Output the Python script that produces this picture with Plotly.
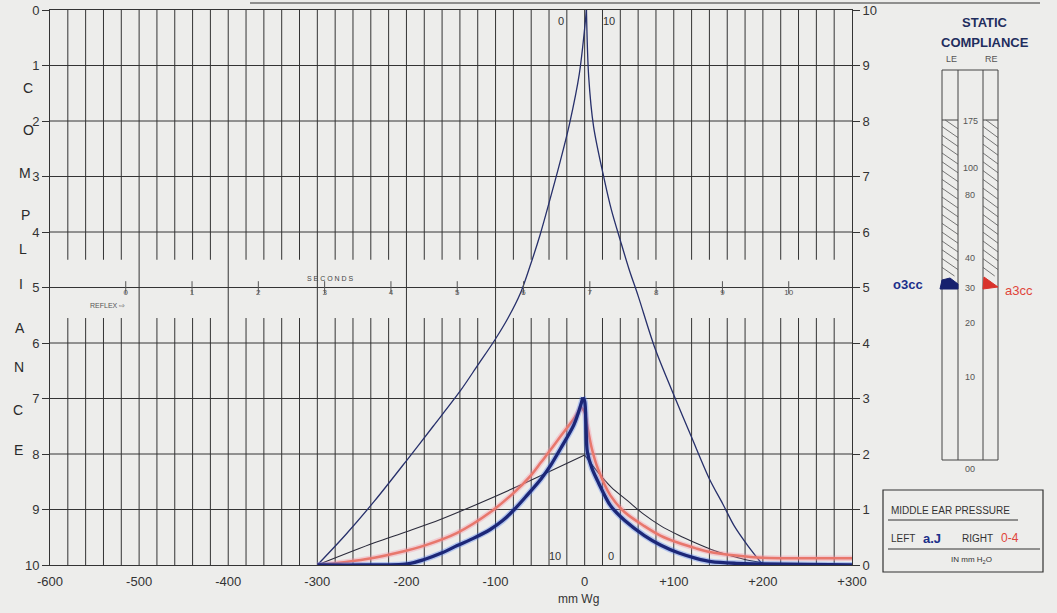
import plotly.graph_objects as go

# ---------------- data ----------------
PRESSURE_TICKS = [-600, -500, -400, -300, -200, -100, 0, 100, 200, 300]
PRESSURE_TICK_TEXT = ["-600", "-500", "-400", "-300", "-200", "-100", "0", "+100", "+200", "+300"]
RIGHT_SCALE = list(range(0, 11))
LEFT_SCALE = list(range(0, 11))
SECONDS = list(range(0, 11))

TALL_X = [-300, -268, -236, -199, -170, -139, -120, -101, -86, -72, -61, -50, -37, -27, -17, -6, 2,
          4.5, 10, 22, 30, 40, 50, 60, 79, 103, 120, 140, 155, 168, 183, 200]
TALL_Y = [0, 0.55, 1.15, 1.9, 2.5, 3.15, 3.6, 4.05, 4.45, 4.9, 5.4, 5.95, 6.7, 7.3, 7.95, 8.85, 10,
          8.8, 7.9, 6.95, 6.4, 5.85, 5.32, 4.85, 3.9, 2.95, 2.3, 1.55, 1.1, 0.7, 0.35, 0]

SMALL_X = [-300, -236, -200, -162, -120, -72, -40, 0, 15, 30, 48, 65, 85, 105, 124, 142, 161, 180, 200]
SMALL_Y = [0, 0.4, 0.6, 0.82, 1.1, 1.44, 1.68, 1.98, 1.67, 1.4, 1.16, 0.93, 0.71, 0.54, 0.4, 0.28, 0.18, 0.1, 0.04]

RED_X = [-300, -270, -236, -210, -180, -143, -106, -79, -60, -49, -38, -27, -12, -4, 0, 3, 8, 15, 29, 45,
         67, 85, 105, 125, 142, 170, 200, 250, 300]
RED_Y = [0, 0.05, 0.13, 0.22, 0.35, 0.58, 0.95, 1.31, 1.62, 1.85, 2.08, 2.32, 2.64, 2.85, 2.75, 2.5, 2.1, 1.73,
         1.25, 0.95, 0.7, 0.53, 0.4, 0.3, 0.23, 0.17, 0.13, 0.12, 0.12]

BLUE_X = [-300, -250, -199, -180, -160, -143, -125, -106, -92, -79, -65, -49, -38, -27, -12, -5, -2, 0, 1.5,
          3, 8, 15, 29, 45, 67, 85, 105, 125, 142, 170, 200, 250, 300]
BLUE_Y = [0, 0, 0.02, 0.1, 0.22, 0.35, 0.48, 0.64, 0.8, 1.0, 1.25, 1.55, 1.8, 2.1, 2.53, 2.85, 3.02, 2.95, 2.5,
          2.04, 1.75, 1.5, 1.07, 0.8, 0.53, 0.36, 0.22, 0.12, 0.06, 0.03, 0.02, 0.01, 0]

STATIC_LABELS = ["175", "100", "80", "40", "30", "20", "10", "00"]
AXIS_LETTERS = ["C", "O", "M", "P", "L", "I", "A", "N", "C", "E"]

# ---------------- layout constants ----------------
W, H = 1057, 613
ML, MR, MT, MB = 50, 205, 10, 48
PW, PH = W - ML - MR, H - MT - MB
SEC_ORIGIN_MM = -515.0
MM_PER_SEC = 74.4
FONT = "Liberation Sans, Arial, sans-serif"
INK = "#343434"
PAPER = "#ededeb"


def px(x):
    return (x - ML) / PW


def py(y):
    return (H - MB - y) / PH


def branches(xs, ys):
    """split a tympanogram at its peak so the cusp stays sharp"""
    i = ys.index(max(ys))
    return (xs[:i + 1], ys[:i + 1]), (xs[i:], ys[i:])


fig = go.Figure()

# ---- printed grid (drawn as line traces) ----
gx, gy = [], []
for v in range(1, 10):
    gx += [-600, 300, None]
    gy += [v, v, None]
for mm in range(-580, 300, 20):
    segs = [(0, 10)] if mm % 100 == 0 else [(0, 4.45), (5.5, 10)]
    for a, b in segs:
        gx += [mm, mm, None]
        gy += [a, b, None]
fig.add_trace(go.Scatter(x=gx, y=gy, mode="lines", line=dict(color=INK, width=1),
                         hoverinfo="skip", connectgaps=False))


def add_curve(xs, ys, color, width, smoothing=0.9):
    for bx, by in branches(xs, ys):
        fig.add_trace(go.Scatter(x=bx, y=by, mode="lines", hoverinfo="skip",
                                 line=dict(color=color, width=width, shape="spline", smoothing=smoothing)))


add_curve(SMALL_X, SMALL_Y, "#2b2b3b", 1.1)
add_curve(TALL_X, TALL_Y, "#27306b", 1.3)
add_curve(RED_X, RED_Y, "rgba(245,140,160,0.35)", 5.5)
add_curve(RED_X, RED_Y, "#e8776c", 2.5)
add_curve(BLUE_X, BLUE_Y, "rgba(70,120,240,0.35)", 6)
add_curve(BLUE_X, BLUE_Y, "#1c2778", 3.3)

# dummy for the left (reversed) axis
fig.add_trace(go.Scatter(x=[-600], y=[0], yaxis="y2", mode="markers",
                         marker=dict(opacity=0), hoverinfo="skip"))

# seconds ruler
fig.add_trace(go.Scatter(x=SECONDS, y=[5] * len(SECONDS), xaxis="x2", mode="markers",
                         marker=dict(symbol="line-ns-open", size=9, color="#555",
                                     line=dict(color="#555", width=1)),
                         hoverinfo="skip"))
fig.add_trace(go.Scatter(x=SECONDS, y=[4.97] * len(SECONDS), xaxis="x2", mode="text",
                         text=[str(s) for s in SECONDS], textposition="bottom center",
                         textfont=dict(size=8, color="#555", family=FONT), hoverinfo="skip"))

shapes = []


def rect(x0, y0, x1, y1, w=1, color="#444"):
    return dict(type="rect", xref="paper", yref="paper", x0=px(x0), x1=px(x1), y0=py(y1), y1=py(y0),
                line=dict(color=color, width=w))


def seg(x0, y0, x1, y1, w=1, color="#444"):
    return dict(type="line", xref="paper", yref="paper", x0=px(x0), x1=px(x1), y0=py(y0), y1=py(y1),
                line=dict(color=color, width=w))


# static compliance column
shapes.append(rect(942, 70, 998, 460))
shapes.append(seg(958, 70, 958, 460))
shapes.append(seg(983, 70, 983, 460))
shapes.append(seg(942, 120, 958, 120))
shapes.append(seg(983, 120, 998, 120))

# hatching
for cx0, cx1 in [(942, 958), (983, 998)]:
    top, bot, k, step = 120, 276, 11, 8.8
    y = top - k
    while y < bot:
        t0 = max(0.0, (top - y) / k)
        t1 = min(1.0, (bot - y) / k)
        if t0 < t1:
            shapes.append(seg(cx0 + t0 * (cx1 - cx0), y + t0 * k, cx0 + t1 * (cx1 - cx0), y + t1 * k,
                              w=0.8, color="#555"))
        y += step

# handwritten marks at 30
shapes.append(dict(type="path", xref="paper", yref="paper",
                   path="M {},{} L {},{} L {},{} L {},{} L {},{} Z".format(
                       px(940), py(289), px(942), py(280), px(950), py(278), px(958), py(284), px(958), py(289)),
                   fillcolor="#16206e", line=dict(color="#16206e", width=1)))
shapes.append(dict(type="path", xref="paper", yref="paper",
                   path="M {},{} L {},{} L {},{} Z".format(px(983), py(289), px(984), py(277), px(998), py(287)),
                   fillcolor="#d9332c", line=dict(color="#d9332c", width=1)))

# middle ear pressure box
shapes.append(rect(883, 490, 1043, 572, w=1.2, color="#333"))
shapes.append(seg(888, 520, 1018, 520, color="#333"))
shapes.append(seg(888, 549, 1040, 549, color="#333"))

# header strip
shapes.append(seg(250, 3, 1040, 3, w=1.2, color="#333"))

annotations = []


def txt(x, y, text, size=12, color=INK, bold=False, xanchor="center", yanchor="middle", family=FONT):
    if bold:
        text = "<b>" + text + "</b>"
    annotations.append(dict(x=px(x), y=py(y), xref="paper", yref="paper", text=text, showarrow=False,
                            xanchor=xanchor, yanchor=yanchor, font=dict(size=size, color=color, family=family)))


# COMPLIANCE letters
letter_y = [88, 130, 173, 215, 249, 284, 328, 367, 410, 450]
letter_x = [28, 28, 25, 25, 23, 21, 20, 19, 18, 18]
for ch, lx, ly in zip(AXIS_LETTERS, letter_x, letter_y):
    txt(lx, ly, ch, size=14, color="#2a2a2a")

txt(578, 599, "mm Wg", size=12, color="#333")
txt(330, 278, "S E C O N D S", size=7, color="#444")
txt(88, 305, "REFLEX ⇨", size=7, color="#555", xanchor="left")

# 0 / 10 marks around the zero line
for xv, yv, t, ya in [(-27, 9.8, "0", "middle"), (27, 9.8, "10", "middle"),
                      (-33, 0.02, "10", "bottom"), (29, 0.02, "0", "bottom")]:
    annotations.append(dict(x=xv, y=yv, xref="x", yref="y", text=t, showarrow=False, yanchor=ya,
                            font=dict(size=11, color="#333", family=FONT)))

# static compliance panel text
txt(985, 22, "STATIC", size=13, color="#1f2e5e", bold=True)
txt(985, 43, "COMPLIANCE", size=13, color="#1f2e5e", bold=True)
txt(951, 59, "LE", size=9, color="#555")
txt(991, 59, "RE", size=9, color="#555")
static_label_y = [121, 168, 195, 258, 288, 323, 377, 469]
for lab, ly in zip(STATIC_LABELS, static_label_y):
    txt(970, ly, lab, size=9, color="#555")
txt(908, 284, "o3cc", size=13, color="#1b2f8a", bold=True)
txt(1003, 290, "a3cc", size=13, color="#e0453a", xanchor="left")

# middle ear pressure text
txt(889, 510, "MIDDLE EAR PRESSURE", size=10, color="#333", xanchor="left")
txt(889, 538, "LEFT", size=10, color="#333", xanchor="left")
txt(932, 538, "a.J", size=13, color="#1b2f8a", bold=True)
txt(960, 538, "RIGHT", size=10, color="#333", xanchor="left")
txt(1010, 538, "0-4", size=12, color="#e0453a")
txt(971, 560, "IN mm H<sub>2</sub>O", size=8, color="#333")

sec_min = (-600 - SEC_ORIGIN_MM) / MM_PER_SEC
sec_max = (300 - SEC_ORIGIN_MM) / MM_PER_SEC

fig.update_layout(
    width=W, height=H,
    margin=dict(l=ML, r=MR, t=MT, b=MB, autoexpand=False),
    paper_bgcolor=PAPER, plot_bgcolor=PAPER,
    showlegend=False,
    font=dict(family=FONT, color=INK),
    xaxis=dict(range=[-600, 300], tickvals=PRESSURE_TICKS, ticktext=PRESSURE_TICK_TEXT, automargin=False,
               showgrid=False, zeroline=False, showline=True, mirror=True, linecolor=INK, linewidth=1,
               ticks="", ticklabelstandoff=4, tickfont=dict(size=13, color="#333")),
    xaxis2=dict(range=[sec_min, sec_max], overlaying="x", visible=False, automargin=False),
    yaxis=dict(range=[0, 10], side="right", tickvals=RIGHT_SCALE, showgrid=False, automargin=False,
               zeroline=False, showline=True, linecolor=INK, ticks="outside", ticklen=7, tickcolor=INK,
               tickfont=dict(size=13, color="#333")),
    yaxis2=dict(range=[10, 0], overlaying="y", side="left", tickvals=LEFT_SCALE, showgrid=False,
                automargin=False,
                zeroline=False, showline=True, linecolor=INK, ticks="outside", ticklen=7, tickcolor=INK,
                tickfont=dict(size=13, color="#333")),
    shapes=shapes,
    annotations=annotations,
)

fig.write_html("out.html", config={"displayModeBar": False},
               post_script="document.body.style.margin='0';")
